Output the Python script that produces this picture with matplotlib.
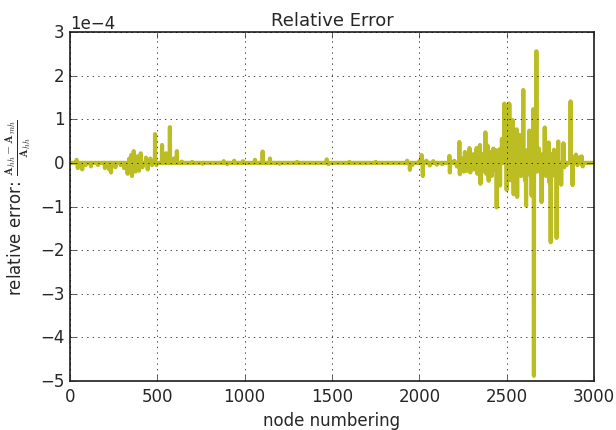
import numpy as np
import matplotlib
matplotlib.use("Agg")
import matplotlib.pyplot as plt

# node count and spikes (values in units of 1e-4)
n_nodes = 3000
spike_nodes = [38, 45, 70, 90, 120, 160, 200, 225, 235, 260, 290, 310, 330, 340, 350,
               355, 365, 375, 385, 395, 405, 415, 435, 445, 460, 470, 487, 495, 527,
               550, 572, 595, 612, 640, 700, 760, 880, 900, 940, 990, 1059, 1103, 1145,
               1200, 1300, 1470, 1480, 1600, 1750, 1930, 1946, 1960, 2000, 2013, 2020,
               2040, 2060, 2080, 2100, 2130, 2172, 2175, 2200, 2215, 2229, 2232, 2245,
               2255, 2261, 2268, 2272, 2287, 2292, 2310, 2315, 2328, 2332, 2347, 2350,
               2365, 2370, 2378, 2383, 2390, 2397, 2410, 2415, 2424, 2430, 2437, 2443,
               2450, 2458, 2462, 2473, 2487, 2500, 2510, 2515, 2520, 2535, 2540, 2557,
               2560, 2568, 2576, 2582, 2595, 2605, 2611, 2620, 2630, 2637, 2643, 2652,
               2656, 2670, 2675, 2684, 2700, 2705, 2718, 2725, 2740, 2745, 2752, 2760,
               2771, 2775, 2786, 2795, 2800, 2812, 2825, 2830, 2843, 2866, 2877, 2890,
               2897, 2905, 2920, 2929, 2935]
spike_vals = [0.07, -0.12, -0.15, -0.05, -0.08, -0.05, -0.12, -0.15, -0.22, -0.1, -0.05,
              -0.12, -0.25, 0.1, 0.18, -0.3, 0.27, -0.2, 0.15, -0.18, 0.22, -0.1, 0.12,
              -0.15, 0.1, -0.05, 0.66, -0.05, 0.41, 0.22, 0.82, 0.1, 0.27, 0.03, 0.02,
              -0.02, 0.04, -0.03, 0.05, 0.04, 0.07, 0.26, 0.1, -0.02, 0.02, 0.08, -0.03,
              0.02, 0.02, 0.05, -0.16, -0.05, 0.04, 0.18, -0.3, 0.05, -0.06, 0.04, -0.04,
              -0.03, 0.16, -0.22, 0.05, -0.08, 0.48, -0.26, 0.1, -0.2, 0.25, 0.14, -0.18,
              0.34, -0.22, 0.2, -0.15, 0.34, -0.25, 0.41, -0.48, 0.2, -0.2, 0.7, -0.25,
              0.4, -0.41, 0.25, -0.3, 0.33, -0.15, 0.29, -1.02, 0.2, 0.31, -0.52, 0.55,
              1.36, -0.62, 0.9, 1.36, -0.4, 0.98, -0.72, 0.77, -0.78, 0.2, 0.64, -0.3,
              1.67, -0.4, -0.98, 0.3, 0.74, -0.3, -0.75, 1.23, -4.88, 2.56, -0.2, 0.33,
              -0.9, 0.2, 0.81, -0.3, 0.47, -0.45, -1.82, 0.2, 0.3, -0.3, -1.72, 0.49,
              -0.2, -0.5, 0.45, -0.1, -0.05, 1.41, -0.51, 0.15, 0.19, -0.05, 0.13, 0.15,
              -0.08]

nodes = np.arange(n_nodes)
rel_err = np.zeros(n_nodes)
rel_err[spike_nodes] = np.array(spike_vals) * 1e-4

plt.style.use('classic')
plt.rcParams['font.family'] = ['DejaVu Sans']
plt.rcParams['figure.facecolor'] = 'white'
plt.rcParams['savefig.facecolor'] = 'white'
plt.rcParams['text.color'] = '0.15'
plt.rcParams['axes.labelcolor'] = '0.15'
plt.rcParams['xtick.color'] = '0.15'
plt.rcParams['ytick.color'] = '0.15'
plt.rcParams['axes.edgecolor'] = '0.15'
plt.rcParams['axes.linewidth'] = 1.25

fig = plt.figure(figsize=(6.16, 4.31), dpi=100)
ax = fig.add_axes([0.1136, 0.1137, 0.8507, 0.8097])
ax.plot(nodes, rel_err, color='#bcbd22', lw=3)
ax.set_xlim(0, 3000)
ax.set_ylim(-5e-4, 3e-4)
ax.ticklabel_format(axis='y', style='sci', scilimits=(0, 0))
ax.grid(True)
ax.set_title('Relative Error', fontsize=13)
ax.set_xlabel('node numbering')
ax.set_ylabel(r'relative error: $\frac{\mathbf{A}_{hh}-\mathbf{A}_{mh}}{\mathbf{A}_{hh}}$')

fig.savefig('out.png', dpi=100)
